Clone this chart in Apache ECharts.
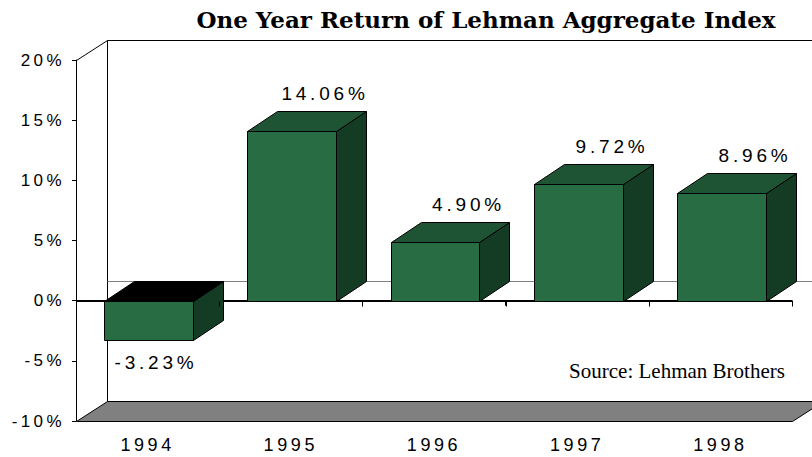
<!DOCTYPE html>
<html>
<head>
<meta charset="utf-8">
<script src="https://cdn.jsdelivr.net/npm/echarts@6/dist/echarts.min.js"></script>
<style>
  html, body { margin: 0; padding: 0; background: #fff; }
  #chart { width: 812px; height: 457px; }
  /* the old chart has wide letter spacing on its sans labels */
  #chart text[style*="Liberation Sans"] { letter-spacing: 0.2em; }
</style>
</head>
<body>
<div id="chart"></div>
<script>
const years = ['1994', '1995', '1996', '1997', '1998'];
const returns = [-3.23, 14.06, 4.90, 9.72, 8.96];
const yTicks = [-10, -5, 0, 5, 10, 15, 20];

const SANS = 'Liberation Sans';
// depth offsets for the fake 3D look
const DX = 30, DY = -20;   // bars
const WX = 31, WY = -20;   // walls / floor

const crisp = v => Math.round(v) + 0.5;

// walls, floor and the zero planes
function renderFrame(params, api) {
  const cs = params.coordSys;
  const x0 = crisp(cs.x), x1 = crisp(cs.x + cs.width);
  const y0 = crisp(cs.y), y1 = crisp(cs.y + cs.height);
  const zy = crisp(api.coord([0, 0])[1]);
  return {
    type: 'group',
    children: [
      { type: 'polygon', shape: { points: [[x0, y1], [x1, y1], [x1 + WX, y1 + WY], [x0 + WX, y1 + WY]] },
        style: { fill: '#808080', stroke: '#000', lineWidth: 1 } },
      { type: 'polyline', shape: { points: [[x0 + WX, y1 + WY], [x0 + WX, y0 + WY], [x1 + WX + 40, y0 + WY]] },
        style: { fill: null, stroke: '#000', lineWidth: 1 } },
      { type: 'line', shape: { x1: x0, y1: y0, x2: x0 + WX, y2: y0 + WY },
        style: { stroke: '#000', lineWidth: 1 } },
      { type: 'line', shape: { x1: x0 + WX, y1: zy + WY, x2: x1 + WX + 40, y2: zy + WY },
        style: { stroke: '#808080', lineWidth: 1 } },
      { type: 'line', shape: { x1: x0, y1: zy, x2: x1, y2: zy },
        style: { stroke: '#000', lineWidth: 1 } }
    ]
  };
}

function renderBar(params, api) {
  const i = api.value(0), v = api.value(1);
  const band = api.size([1, 0])[0];
  const w = band * 0.62;
  const top = api.coord([i, v]);
  const base = api.coord([i, 0]);
  const xl = crisp(top[0] - w / 2 + 1), xr = crisp(top[0] + w / 2 + 1);
  const yt = crisp(Math.min(top[1], base[1])), yb = crisp(Math.max(top[1], base[1]));
  const label = v.toFixed(2) + '%';
  const lx = v >= 0 ? (xl + xr) / 2 + DX + 3 : (xl + xr) / 2 + 7;
  const ly = v >= 0 ? yt + DY - 18 : yb + 22;
  return {
    type: 'group',
    children: [
      { type: 'polygon', shape: { points: [[xr, yt], [xr + DX, yt + DY], [xr + DX, yb + DY], [xr, yb]] },
        style: { fill: '#143B24', stroke: '#000', lineWidth: 1 } },
      { type: 'polygon', shape: { points: [[xl, yt], [xl + DX, yt + DY], [xr + DX, yt + DY], [xr, yt]] },
        style: { fill: v >= 0 ? '#1E5433' : '#000', stroke: '#000', lineWidth: 1 } },
      { type: 'rect', shape: { x: xl, y: yt, width: xr - xl, height: yb - yt },
        style: { fill: '#276C42', stroke: '#000', lineWidth: 1 } },
      { type: 'text', x: lx, y: ly,
        style: { text: label, fill: '#000', fontFamily: SANS, fontSize: 19, align: 'center', verticalAlign: 'middle' } }
    ]
  };
}

// small ticks under the zero line, drawn over the bars
function renderZeroTicks(params, api) {
  const cs = params.coordSys;
  const band = api.size([1, 0])[0];
  const zy = crisp(api.coord([0, 0])[1]);
  const children = [];
  for (let k = 0; k <= years.length; k++) {
    const x = crisp(cs.x + k * band);
    children.push({ type: 'line', shape: { x1: x, y1: zy, x2: x, y2: zy + 5 }, style: { stroke: '#000', lineWidth: 1 } });
  }
  return { type: 'group', children };
}

const chart = echarts.init(document.getElementById('chart'), null, { renderer: 'svg' });
chart.setOption({
  animation: false,
  backgroundColor: '#fff',
  title: [
    {
      text: 'One Year Return of Lehman Aggregate Index',
      left: 481, top: 3, textAlign: 'center',
      textStyle: { fontFamily: 'DejaVu Serif', fontWeight: 'bold', fontSize: 23, color: '#000' }
    },
    {
      text: 'Source: Lehman Brothers',
      left: 672, top: 355, textAlign: 'center',
      textStyle: { fontFamily: 'Liberation Serif', fontWeight: 'normal', fontSize: 21, color: '#000' }
    }
  ],
  grid: { left: 76, right: 20, top: 60, bottom: 36, containLabel: false },
  xAxis: {
    type: 'category',
    data: years,
    boundaryGap: true,
    axisLine: { lineStyle: { color: '#000', width: 1 } },
    axisTick: { show: true, length: 5, lineStyle: { color: '#000' } },
    axisLabel: { color: '#000', fontFamily: SANS, fontSize: 18, margin: 15 },
    splitLine: { show: false }
  },
  yAxis: {
    type: 'value',
    min: yTicks[0],
    max: yTicks[yTicks.length - 1],
    interval: yTicks[1] - yTicks[0],
    axisLine: { show: true, lineStyle: { color: '#000', width: 1 } },
    axisTick: { show: true, length: 4, lineStyle: { color: '#000' } },
    axisLabel: { color: '#000', fontFamily: SANS, fontSize: 17, margin: 11, formatter: '{value}%' },
    splitLine: { show: false }
  },
  series: [
    { type: 'custom', name: 'frame', z: 1, silent: true, renderItem: renderFrame, data: [[0, 0]] },
    { type: 'custom', name: 'One Year Return', z: 2, renderItem: renderBar,
      data: returns.map((v, i) => [i, v]) },
    { type: 'custom', name: 'ticks', z: 3, silent: true, renderItem: renderZeroTicks, data: [[0, 0]] }
  ]
});
</script>
</body>
</html>
